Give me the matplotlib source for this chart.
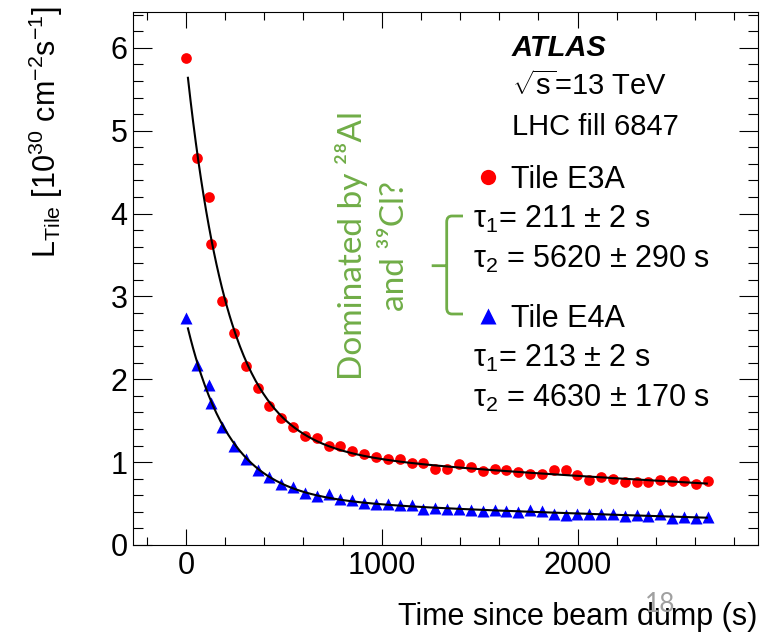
import numpy as np
import matplotlib
matplotlib.use('Agg')
import matplotlib.pyplot as plt
from matplotlib.lines import Line2D
from matplotlib.path import Path
from matplotlib.patches import PathPatch

# time since beam dump (s)
times = [0, 58, 117, 126,
         184, 245, 305, 366, 426, 487, 547, 608, 668, 729,
         789, 850, 910, 971, 1031, 1092, 1152, 1213, 1273, 1334,
         1394, 1455, 1515, 1576, 1636, 1697, 1757, 1818, 1878, 1939,
         1999, 2060, 2120, 2181, 2241, 2302, 2362, 2423, 2483, 2544,
         2604, 2665]

# Tile E3A (red circles)
e3a = [5.88, 4.67, 4.20, 3.63,
       2.95, 2.56, 2.16, 1.90, 1.68, 1.53, 1.43, 1.31, 1.29, 1.19,
       1.20, 1.14, 1.10, 1.06, 1.04, 1.04, 0.99, 0.99, 0.92, 0.92,
       0.98, 0.94, 0.89, 0.92, 0.90, 0.88, 0.86, 0.86, 0.90, 0.90,
       0.84, 0.78, 0.82, 0.80, 0.76, 0.76, 0.76, 0.78, 0.77, 0.77,
       0.74, 0.77]

# Tile E4A (blue triangles)
e4a = [2.74, 2.17, 1.93, 1.71,
       1.42, 1.20, 1.04, 0.90, 0.82, 0.74, 0.70, 0.63, 0.59, 0.61,
       0.56, 0.54, 0.51, 0.50, 0.49, 0.48, 0.48, 0.44, 0.45, 0.44,
       0.43, 0.42, 0.41, 0.42, 0.41, 0.40, 0.42, 0.41, 0.38, 0.36,
       0.38, 0.37, 0.37, 0.38, 0.35, 0.36, 0.35, 0.37, 0.33, 0.34,
       0.33, 0.34]

# fitted lifetimes (s)
tau_e3a = (211, 5620)
tau_e4a = (213, 4630)
fit_range = (10, 2660)

green = '#70ad47'

plt.rcParams['font.family'] = ['Liberation Sans', 'DejaVu Sans']
plt.rcParams['mathtext.fontset'] = 'custom'
plt.rcParams['mathtext.rm'] = 'Liberation Sans'
plt.rcParams['mathtext.it'] = 'Liberation Sans:italic'
plt.rcParams['mathtext.bf'] = 'Liberation Sans:bold'

W, H = 762, 635


def fx(px):
    return px / W


def fy(py):
    return 1 - py / H


def double_exp_fit(t, y, taus):
    # amplitudes of a two-lifetime decay, taus fixed
    t = np.asarray(t, float)
    y = np.asarray(y, float)
    sel = t > 0
    basis = np.column_stack([np.exp(-t[sel] / taus[0]), np.exp(-t[sel] / taus[1])])
    amp = np.linalg.lstsq(basis, y[sel], rcond=None)[0]
    tt = np.linspace(fit_range[0], fit_range[1], 400)
    return tt, amp[0] * np.exp(-tt / taus[0]) + amp[1] * np.exp(-tt / taus[1])


fig = plt.figure(figsize=(7.62, 6.35), dpi=100)
ax = fig.add_axes([fx(133.3), fy(545), fx(758.3) - fx(133.3), fy(12.3) - fy(545)])

tt, ff = double_exp_fit(times, e3a, tau_e3a)
ax.plot(tt, ff, color='black', lw=1.5, zorder=3)
tt, ff = double_exp_fit(times, e4a, tau_e4a)
ax.plot(tt, ff, color='black', lw=1.5, zorder=3)

ax.plot(times, e3a, 'o', color='red', ms=7.7, mec='none', zorder=2)
ax.plot(times, e4a, '^', color='blue', ms=8, mec='none', zorder=2)

ax.set_xlim(-269, 2923)
ax.set_ylim(0, 6.43)
ax.set_xticks([0, 1000, 2000])
ax.set_xticks(np.arange(-200, 2901, 200), minor=True)
ax.set_yticks(range(7))
ax.set_yticks(np.arange(0, 6.41, 0.2), minor=True)

ax.tick_params(which='both', direction='in', top=True, right=True,
               labelsize=22, width=0.8, color='black', pad=4)
ax.tick_params(axis='y', which='major', length=13.7)
ax.tick_params(axis='y', which='minor', length=7)
ax.tick_params(axis='x', which='major', length=11.3)
ax.tick_params(axis='x', which='minor', length=5.6)
for s in ax.spines.values():
    s.set_linewidth(0.8)

# axis titles
fig.text(fx(46), fy(6), r'L$_{\mathrm{Tile}}$ [10$^{30}$ cm$^{-2}$s$^{-1}$]',
         rotation=90, ha='center', va='top', fontsize=22)
fig.text(fx(757), fy(625), 'Time since beam dump (s)', ha='right',
         va='baseline', fontsize=22)

# labels
fig.text(fx(511.7), fy(56), 'ATLAS', fontsize=21, fontweight='bold',
         fontstyle='italic', va='baseline')
fig.text(fx(511.7), fy(95), r'$\sqrt{\mathrm{s}}$=13 TeV', fontsize=21, va='baseline')
fig.text(fx(511.7), fy(135), 'LHC fill 6847', fontsize=21, va='baseline')

fig.add_artist(Line2D([fx(488.3)], [fy(176.7)], marker='o', color='red', ms=11,
                      mec='none', transform=fig.transFigure))
fig.text(fx(510.7), fy(188), 'Tile E3A', fontsize=22, va='baseline')
fig.text(fx(473), fy(228), 'τ$_1$= 211 ± 2 s', fontsize=22, va='baseline')
fig.text(fx(473), fy(268), 'τ$_2$ = 5620 ± 290 s', fontsize=22, va='baseline')

fig.add_artist(Line2D([fx(488.3)], [fy(316)], marker='^', color='blue', ms=11,
                      mec='none', transform=fig.transFigure))
fig.text(fx(510.7), fy(327), 'Tile E4A', fontsize=22, va='baseline')
fig.text(fx(473), fy(367), 'τ$_1$= 213 ± 2 s', fontsize=22, va='baseline')
fig.text(fx(473), fy(407), 'τ$_2$ = 4630 ± 170 s', fontsize=22, va='baseline')

# green annotation
fig.text(fx(352), fy(245), 'Dominated by ²⁸Al', rotation=90, ha='center',
         va='center', color=green, fontsize=24, family=['Lato', 'DejaVu Sans'])
fig.text(fx(395), fy(246), 'and ³⁹Cl?', rotation=90, ha='center',
         va='center', color=green, fontsize=24, family=['Lato', 'DejaVu Sans'])

verts = [(463, 216), (452, 216), (446.7, 216), (446.7, 222),
         (446.7, 308), (446.7, 314), (452, 314), (463, 314),
         (446.7, 265.7), (431.7, 265.7)]
codes = [Path.MOVETO, Path.LINETO, Path.CURVE3, Path.CURVE3,
         Path.LINETO, Path.CURVE3, Path.CURVE3, Path.LINETO,
         Path.MOVETO, Path.LINETO]
brace = Path([(fx(a), fy(b)) for a, b in verts], codes)
fig.add_artist(PathPatch(brace, fill=False, edgecolor=green, lw=2,
                         transform=fig.transFigure))

# slide number
fig.text(fx(660), fy(605), '18', ha='center', va='center', color='#a0a0a0',
         fontsize=19, family=['Lato', 'DejaVu Sans'])

fig.savefig('out.png', dpi=100)
